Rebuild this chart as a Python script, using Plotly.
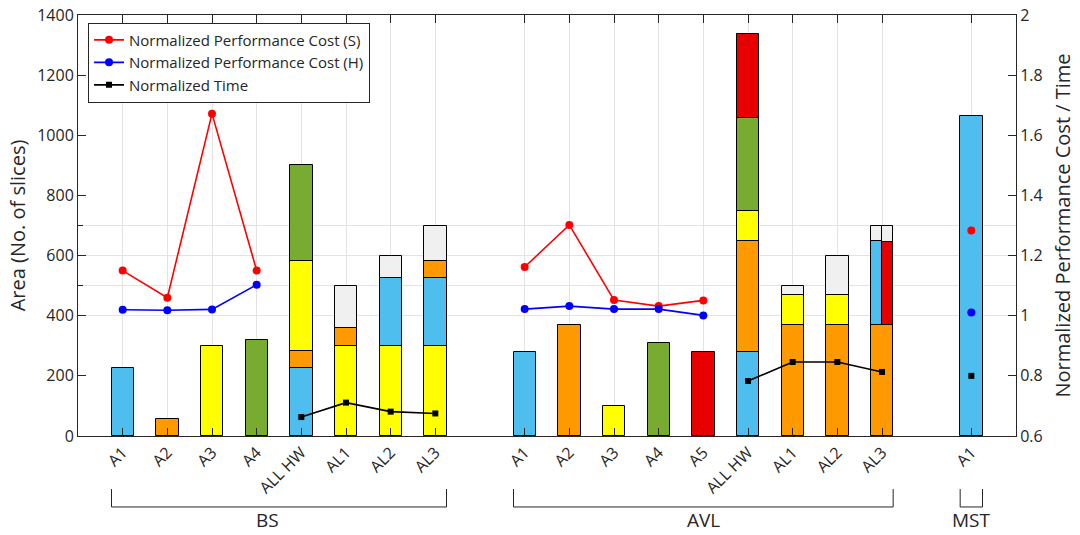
import plotly.graph_objects as go

# ---------------- data ----------------
tick_labels = ["A1", "A2", "A3", "A4", "ALL HW", "AL1", "AL2", "AL3",
               "A1", "A2", "A3", "A4", "A5", "ALL HW", "AL1", "AL2", "AL3",
               "A1"]
positions = [1, 2, 3, 4, 5, 6, 7, 8,
             10, 11, 12, 13, 14, 15, 16, 17, 18,
             20]
group_names = ["BS", "AVL", "MST"]
group_members = [[1, 2, 3, 4, 5, 6, 7, 8],
                 [10, 11, 12, 13, 14, 15, 16, 17, 18],
                 [20]]
group_label_pos = [4.25, 14, 20]

# stacked segments (bottom to top) for each bar: (component, area)
stacks = [
    [("A1", 225)],
    [("A2", 58)],
    [("A3", 300)],
    [("A4", 318)],
    [("A1", 225), ("A2", 58), ("A3", 300), ("A4", 318)],
    [("A3", 300), ("A2", 58), ("rest", 142)],
    [("A3", 300), ("A1", 225), ("rest", 75)],
    [("A3", 300), ("A1", 225), ("A2", 58), ("rest", 117)],
    [("A1", 280)],
    [("A2", 368)],
    [("A3", 100)],
    [("A4", 308)],
    [("A5", 280)],
    [("A1", 280), ("A2", 368), ("A3", 100), ("A4", 308), ("A5", 280)],
    [("A2", 368), ("A3", 100), ("rest", 32)],
    [("A2", 368), ("A3", 100), ("rest", 132)],
    [("A2", 368)],
    [("A1", 1063)],
]
# AVL AL3 upper part is split into two half-width columns
split_pos = 18
split_left = [("A1", 280), ("rest", 52)]
split_right = [("A5", 276), ("rest", 56)]

comp_colors = {"A1": "#4DBEEE", "A2": "#FF9900", "A3": "#FFFF00",
               "A4": "#77AC30", "A5": "#E80000", "rest": "#F0F0F0"}

# line series (right axis)
perf_s_x = [1, 2, 3, 4, None, 10, 11, 12, 13, 14, None, 20]
perf_s_y = [1.150, 1.060, 1.672, 1.150, None, 1.162, 1.302, 1.052, 1.032, 1.051, None, 1.283]
perf_h_x = [1, 2, 3, 4, None, 10, 11, 12, 13, 14, None, 20]
perf_h_y = [1.020, 1.018, 1.021, 1.103, None, 1.022, 1.032, 1.022, 1.022, 1.001, None, 1.011]
time_x = [5, 6, 7, 8, None, 15, 16, 17, 18, None, 20]
time_y = [0.663, 0.711, 0.681, 0.675, None, 0.783, 0.846, 0.846, 0.813, None, 0.800]

left_grid_vals = [400, 500, 600, 700]

# ---------------- figure ----------------
FONT = "Open Sans"
TXT = "#262626"
BAR_W = 0.5

fig = go.Figure()


def add_stack(xpos, segs, base0, width, offset):
    base = base0
    for comp, val in segs:
        fig.add_trace(go.Bar(
            x=[xpos], y=[val], base=[base], width=[width], offset=[offset],
            marker=dict(color=comp_colors[comp], line=dict(color="black", width=1)),
            showlegend=False, hoverinfo="skip"))
        base += val
    return base


for xpos, segs in zip(positions, stacks):
    top = add_stack(xpos, segs, 0, BAR_W, -BAR_W / 2)
    if xpos == split_pos:
        add_stack(xpos, split_left, top, BAR_W / 2, -BAR_W / 2)
        add_stack(xpos, split_right, top, BAR_W / 2, 0)

fig.add_trace(go.Scatter(
    x=perf_s_x, y=perf_s_y, yaxis="y2", mode="lines+markers",
    name="Normalized Performance Cost (S)",
    line=dict(color="#FF0000", width=1.6),
    marker=dict(symbol="circle", size=8, color="#FF0000"),
    connectgaps=False))
fig.add_trace(go.Scatter(
    x=perf_h_x, y=perf_h_y, yaxis="y2", mode="lines+markers",
    name="Normalized Performance Cost (H)",
    line=dict(color="#0000FF", width=1.6),
    marker=dict(symbol="circle", size=8, color="#0000FF"),
    connectgaps=False))
fig.add_trace(go.Scatter(
    x=time_x, y=time_y, yaxis="y2", mode="lines+markers",
    name="Normalized Time",
    line=dict(color="black", width=1.6),
    marker=dict(symbol="square", size=6, color="black"),
    connectgaps=False))

# group brackets below the axis
shapes = []
annotations = []
for name, members, lp in zip(group_names, group_members, group_label_pos):
    x0 = min(members) - BAR_W / 2
    x1 = max(members) + BAR_W / 2
    shapes.append(dict(type="path", xref="x", yref="paper",
                       path=f"M {x0},-0.126 L {x0},-0.1686 L {x1},-0.1686 L {x1},-0.126",
                       line=dict(color=TXT, width=1)))
    annotations.append(dict(text=name, x=lp, xref="x", y=-0.2, yref="paper",
                            showarrow=False, font=dict(family=FONT, size=19, color=TXT),
                            xanchor="center", yanchor="middle"))

fig.update_layout(
    width=1080, height=535, autosize=False,
    margin=dict(l=78, r=64, t=15, b=99, autoexpand=False),
    paper_bgcolor="white", plot_bgcolor="white",
    barmode="overlay", bargap=0,
    font=dict(family=FONT, size=16, color=TXT),
    shapes=shapes, annotations=annotations,
    legend=dict(x=0.0107, y=0.982, xanchor="left", yanchor="top",
                bgcolor="white", bordercolor="#262626", borderwidth=1,
                font=dict(family=FONT, size=15, color=TXT),
                tracegroupgap=0, itemwidth=30),
    xaxis=dict(range=[0, 21], tickmode="array", tickvals=positions, ticktext=tick_labels,
               tickangle=-45, ticks="inside", ticklen=8, tickcolor=TXT,
               showline=True, linecolor=TXT, linewidth=1, mirror="ticks",
               showgrid=True, gridcolor="#E3E3E3", gridwidth=1, zeroline=False,
               automargin=False,
               tickfont=dict(family=FONT, size=16, color=TXT)),
    yaxis=dict(range=[0, 1400], tickmode="array", tickvals=[0, 200, 400, 600, 800, 1000, 1200, 1400],
               ticks="inside", ticklen=8, tickcolor=TXT,
               showline=True, linecolor=TXT, linewidth=1,
               showgrid=False, zeroline=False, automargin=False,
               minor=dict(tickmode="array", tickvals=left_grid_vals, showgrid=True,
                          gridcolor="#E3E3E3", gridwidth=1, ticks="inside", ticklen=5,
                          tickcolor=TXT),
               title=dict(text="Area (No. of slices)", font=dict(family=FONT, size=20, color=TXT),
                          standoff=6),
               tickfont=dict(family=FONT, size=16, color=TXT)),
    yaxis2=dict(range=[0.6, 2], overlaying="y", side="right", tickmode="array",
                tickvals=[0.6, 0.8, 1.0, 1.2, 1.4, 1.6, 1.8, 2.0],
                ticktext=["0.6", "0.8", "1", "1.2", "1.4", "1.6", "1.8", "2"],
                ticks="inside", ticklen=8, tickcolor=TXT,
                showline=True, linecolor=TXT, linewidth=1,
                showgrid=False, zeroline=False, automargin=False,
                title=dict(text="Normalized Performance Cost / Time",
                           font=dict(family=FONT, size=20, color=TXT), standoff=14),
                tickfont=dict(family=FONT, size=16, color=TXT)),
)

fig.write_html("out.html",
               config={"displayModeBar": False},
               post_script="document.body.style.margin='0';document.body.style.padding='0';")
